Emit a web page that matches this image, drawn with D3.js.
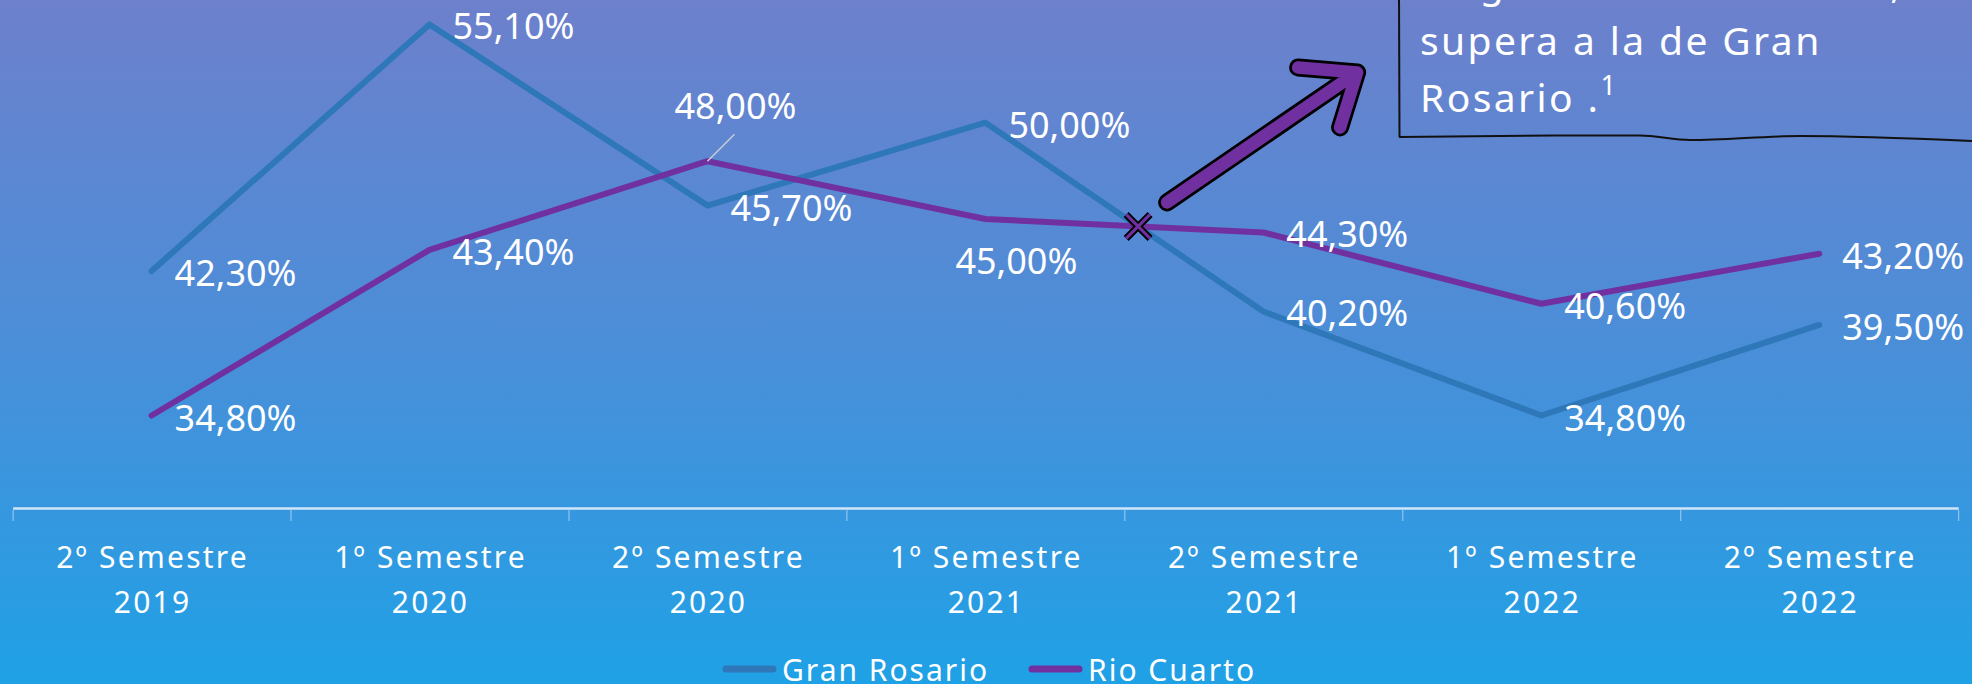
<!DOCTYPE html>
<html>
<head>
<meta charset="utf-8">
<script src="https://cdn.jsdelivr.net/npm/d3@7"></script>
<style>
  body { margin: 0; overflow: hidden; }
  svg { display: block; }
  text { font-family: "Noto Sans", "Open Sans", sans-serif; fill: #fff; }
</style>
</head>
<body>
<svg width="1972" height="684"></svg>
<script>
/* global d3 */
var semestres = ["2º Semestre", "1º Semestre", "2º Semestre", "1º Semestre", "2º Semestre", "1º Semestre", "2º Semestre"];
var anios = ["2019", "2020", "2020", "2021", "2021", "2022", "2022"];

var gran_rosario = [42.3, 55.1, 45.7, 50.0, 40.2, 34.8, 39.5];
var rio_cuarto = [34.8, 43.4, 48.0, 45.0, 44.3, 40.6, 43.2];

var nombres = ["Gran Rosario", "Rio Cuarto"];
var colores = ["#2e78b9", "#7030a0"];

var nota = ["La gente de Rio Cuarto,", "supera a la de Gran", "Rosario ."];

var svg = d3.select("svg"),
    width = +svg.attr("width"),
    height = +svg.attr("height");

// fondo degradado
var defs = svg.append("defs");
var grad = defs.append("linearGradient")
    .attr("id", "fondo")
    .attr("x1", 0).attr("y1", 0).attr("x2", 0).attr("y2", 1);
grad.append("stop").attr("offset", "0%").attr("stop-color", "#6d80cc");
grad.append("stop").attr("offset", "50%").attr("stop-color", "#4b8ed8");
grad.append("stop").attr("offset", "100%").attr("stop-color", "#1fa1e6");

svg.append("rect")
    .attr("width", width)
    .attr("height", height)
    .attr("fill", "url(#fondo)");

var x = d3.scaleBand().domain(d3.range(semestres.length)).range([12.6, 1958.2]);
var y = d3.scaleLinear().domain([30, 60]).range([508, -70]);
var cx = function(i) { return x(i) + x.bandwidth() / 2; };

// eje x: marcas entre categorias
var xl = d3.scaleLinear().domain([0, semestres.length]).range(x.range());
var eje = svg.append("g")
    .attr("transform", "translate(0," + y(30) + ")")
    .call(d3.axisBottom(xl).ticks(semestres.length).tickFormat("").tickSize(13).tickSizeOuter(0));
eje.select(".domain")
    .attr("stroke", "rgba(235,242,252,0.85)")
    .attr("stroke-width", 2.5);
eje.selectAll(".tick line")
    .attr("stroke", "rgba(235,242,252,0.6)")
    .attr("stroke-width", 1)
    .attr("y1", 2);

var etiquetas = svg.append("g")
    .selectAll("text")
    .data(semestres)
    .enter().append("text")
    .attr("text-anchor", "middle")
    .style("font-size", "30px")
    .style("letter-spacing", "2.2px");
etiquetas.append("tspan")
    .attr("x", function(d, i) { return cx(i) + 1; })
    .attr("y", 568)
    .text(function(d) { return d; });
etiquetas.append("tspan")
    .attr("x", function(d, i) { return cx(i) + 1; })
    .attr("y", 613)
    .text(function(d, i) { return anios[i]; });

// lineas
var linea = d3.line()
    .x(function(d, i) { return cx(i); })
    .y(function(d) { return y(d); });

var series = [gran_rosario, rio_cuarto];

svg.append("g")
    .selectAll("path")
    .data(series)
    .enter().append("path")
    .attr("d", function(d) { return linea(d); })
    .attr("fill", "none")
    .attr("stroke", function(d, i) { return colores[i]; })
    .attr("stroke-width", 6)
    .attr("stroke-linecap", "round")
    .attr("stroke-linejoin", "round");

// etiquetas de valores
var formato = function(v) { return d3.format(".2f")(v).replace(".", ",") + "%"; };

var puntos = [];
series.forEach(function(s, k) {
  s.forEach(function(v, i) { puntos.push({serie: k, i: i, v: v}); });
});

var etq = svg.append("g");
puntos.forEach(function(p) {
  var px = cx(p.i), py = y(p.v);
  var t = etq.append("text")
      .style("font-size", "36px")
      .text(formato(p.v));
  if (p.serie === 1 && p.i === 2) {
    // etiqueta arriba con linea guia
    etq.append("line")
        .attr("x1", px).attr("y1", py)
        .attr("x2", px + 27).attr("y2", py - 27)
        .attr("stroke", "#c9ccd6")
        .attr("stroke-width", 1.5);
    t.attr("x", px + 28).attr("y", py - 42).attr("text-anchor", "middle");
  } else if (p.serie === 1 && p.i === 3) {
    t.attr("x", px + 31).attr("y", py + 55).attr("text-anchor", "middle");
  } else {
    t.attr("x", px + 23).attr("y", py + 15);
  }
});

// cruce final de las dos series
var cruce = null;
for (var i = 0; i < gran_rosario.length - 1; i++) {
  var a = gran_rosario[i] - rio_cuarto[i],
      b = gran_rosario[i + 1] - rio_cuarto[i + 1];
  if (a * b < 0) {
    var t = a / (a - b);
    cruce = {
      x: cx(i) + t * (cx(i + 1) - cx(i)),
      y: y(gran_rosario[i] + t * (gran_rosario[i + 1] - gran_rosario[i]))
    };
  }
}

var marca = svg.append("g").attr("transform", "translate(" + cruce.x + "," + cruce.y + ")");
var cruz = "M-12,-12L12,12M-12,12L12,-12";
marca.append("path").attr("d", cruz).attr("stroke", "#000").attr("stroke-width", 7).attr("fill", "none");
marca.append("path").attr("d", cruz).attr("stroke", colores[1]).attr("stroke-width", 3.2).attr("fill", "none");

// flecha
var flecha = [[29, -24], [219, -154]];
var punta = [[160, -159], [219, -154], [202, -99]];
var trazo = d3.line();
[["#000", 18], [colores[1], 12.5]].forEach(function(e) {
  marca.append("path")
      .attr("d", trazo(flecha) + trazo(punta))
      .attr("fill", "none")
      .attr("stroke", e[0])
      .attr("stroke-width", e[1])
      .attr("stroke-linecap", "round")
      .attr("stroke-linejoin", "round");
});

// cuadro de nota
var caja = svg.append("g");
caja.append("path")
    .attr("d", d3.line().curve(d3.curveMonotoneX)([[1399, 137], [1560, 135.5], [1640, 135.5], [1690, 140], [1800, 136], [1972, 141]]))
    .attr("fill", "none")
    .attr("stroke", "#111")
    .attr("stroke-width", 2);
caja.append("line")
    .attr("x1", 1399).attr("y1", -5)
    .attr("x2", 1399.5).attr("y2", 137)
    .attr("stroke", "#111")
    .attr("stroke-width", 2);

var nt = caja.selectAll("text")
    .data(nota)
    .enter().append("text")
    .attr("x", 1420)
    .attr("y", function(d, i) { return -2 + i * 57; })
    .style("font-size", "39px")
    .style("letter-spacing", "2.4px")
    .text(function(d) { return d; });
nt.filter(function(d, i) { return i === nota.length - 1; })
    .append("tspan")
    .attr("dy", -17)
    .style("font-size", "27px")
    .style("letter-spacing", "0px")
    .text("1");

// leyenda
var leyenda = svg.append("g");
var posLeyenda = [723, 1029];
nombres.forEach(function(n, k) {
  leyenda.append("line")
      .attr("x1", posLeyenda[k] + 3).attr("x2", posLeyenda[k] + 50)
      .attr("y1", 669).attr("y2", 669)
      .attr("stroke", colores[k])
      .attr("stroke-width", 7)
      .attr("stroke-linecap", "round");
  leyenda.append("text")
      .attr("x", posLeyenda[k] + 59)
      .attr("y", 681)
      .style("font-size", "30px")
      .style("letter-spacing", "2px")
      .text(n);
});
</script>
</body>
</html>
